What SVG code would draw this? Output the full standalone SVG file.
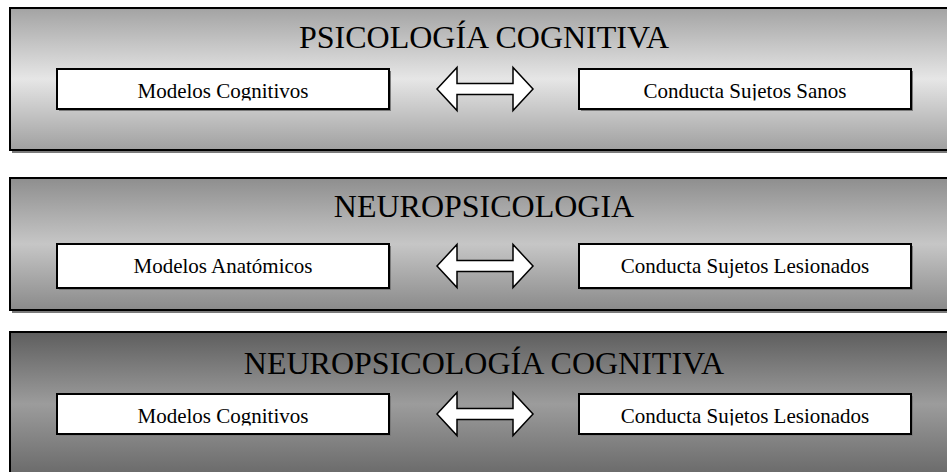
<svg xmlns="http://www.w3.org/2000/svg" width="947" height="472" viewBox="0 0 947 472">
<style>
.title{font-family:"Liberation Serif","Times New Roman",serif;font-size:32px;fill:#000;text-anchor:middle}
.lbl{font-family:"Liberation Serif","Times New Roman",serif;font-size:21px;fill:#000;text-anchor:middle}
.outer{stroke:#000;stroke-width:2}
.shadow{fill:#7a7a7a}
.inner{fill:#fff;stroke:#000;stroke-width:2}
.arrow{fill:#fff;stroke:#000;stroke-width:1.5;stroke-linejoin:miter}
</style>
<defs>
<linearGradient id="g1" x1="0" y1="0" x2="0" y2="1">
<stop offset="0" stop-color="#a3a3a3"/>
<stop offset="0.5" stop-color="#e6e6e6"/>
<stop offset="1" stop-color="#a0a0a0"/>
</linearGradient>
<linearGradient id="g2" x1="0" y1="0" x2="0" y2="1">
<stop offset="0" stop-color="#8e8e8e"/>
<stop offset="0.5" stop-color="#c6c6c6"/>
<stop offset="1" stop-color="#8a8a8a"/>
</linearGradient>
<linearGradient id="g3" x1="0" y1="0" x2="0" y2="1">
<stop offset="0" stop-color="#5e5e5e"/>
<stop offset="0.45" stop-color="#9c9c9c"/>
<stop offset="1" stop-color="#5e5e5e"/>
</linearGradient>
<clipPath id="c1"><rect x="0" y="0" width="947" height="100.5"/></clipPath>
<clipPath id="c3"><rect x="0" y="0" width="947" height="425.5"/></clipPath>
<path id="arr" d="M-48,0 L-28,-21.5 L-28,-5.5 L28,-5.5 L28,-21.5 L48,0 L28,21.5 L28,5.5 L-28,5.5 L-28,21.5 Z"/>
</defs>

<g id="psicologia-cognitiva">
<rect class="shadow" x="12" y="10" width="950" height="143"/>
<rect class="outer" x="10" y="8" width="950" height="142" fill="url(#g1)"/>
<text class="title" x="484" y="48">PSICOLOGÍA COGNITIVA</text>
</g>
<g id="modelos-cognitivos-1">
<rect class="shadow" x="59" y="71" width="332" height="40"/>
<rect class="inner" x="57" y="69" width="332" height="40"/>
<text class="lbl" x="223" y="98" clip-path="url(#c1)">Modelos Cognitivos</text>
</g>
<g id="conducta-sanos">
<rect class="shadow" x="581" y="71" width="332" height="40"/>
<rect class="inner" x="579" y="69" width="332" height="40"/>
<text class="lbl" x="745" y="98" clip-path="url(#c1)">Conducta Sujetos Sanos</text>
</g>

<g id="neuropsicologia">
<rect class="shadow" x="12" y="180" width="950" height="133"/>
<rect class="outer" x="10" y="178" width="950" height="132" fill="url(#g2)"/>
<text class="title" x="484" y="217">NEUROPSICOLOGIA</text>
</g>
<g id="modelos-anatomicos">
<rect class="shadow" x="59" y="246" width="332" height="44"/>
<rect class="inner" x="57" y="244" width="332" height="44"/>
<text class="lbl" x="223" y="273">Modelos Anatómicos</text>
</g>
<g id="conducta-lesionados-1">
<rect class="shadow" x="581" y="246" width="332" height="44"/>
<rect class="inner" x="579" y="244" width="332" height="44"/>
<text class="lbl" x="745" y="273">Conducta Sujetos Lesionados</text>
</g>

<g id="neuropsicologia-cognitiva">
<rect class="outer" x="10" y="332" width="950" height="160" fill="url(#g3)"/>
<text class="title" x="484" y="374">NEUROPSICOLOGÍA COGNITIVA</text>
</g>
<g id="modelos-cognitivos-3">
<rect class="shadow" x="59" y="396" width="332" height="40"/>
<rect class="inner" x="57" y="394" width="332" height="40"/>
<text class="lbl" x="223" y="423" clip-path="url(#c3)">Modelos Cognitivos</text>
</g>
<g id="conducta-lesionados-3">
<rect class="shadow" x="581" y="396" width="332" height="40"/>
<rect class="inner" x="579" y="394" width="332" height="40"/>
<text class="lbl" x="745" y="423" clip-path="url(#c3)">Conducta Sujetos Lesionados</text>
</g>

<g id="connectors">
<use href="#arr" class="arrow" transform="translate(485,89)"/>
<use href="#arr" class="arrow" transform="translate(485,266)"/>
<use href="#arr" class="arrow" transform="translate(485,414)"/>
</g>
</svg>
